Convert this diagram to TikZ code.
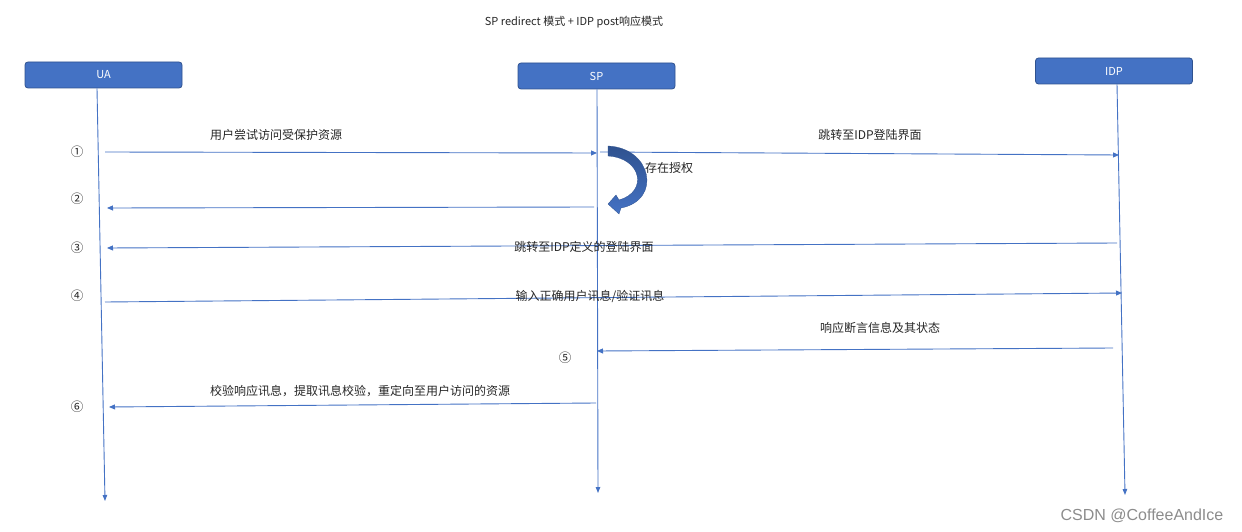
\documentclass[tikz,border=0pt]{standalone}
\usepackage{fontspec}
\setmainfont{Noto Sans CJK SC}
\newfontfamily\wmfont{Liberation Sans}
\usetikzlibrary{arrows.meta}
\definecolor{lineblue}{HTML}{4472C4}
\definecolor{boxedge}{HTML}{2F528F}
\definecolor{txt}{HTML}{262626}
\tikzset{
  actor/.style={draw=boxedge, fill=lineblue, rounded corners=3pt, minimum width=157pt, minimum height=26pt, inner sep=0pt, text=white, font=\fontsize{11}{13}\selectfont, line width=0.8pt},
  life/.style={draw=lineblue, line width=0.9pt, -{Triangle[length=6pt,width=4.5pt]}},
  msg/.style={draw=lineblue, line width=0.9pt, -{Triangle[length=6pt,width=5pt]}},
  lbl/.style={text=txt, font=\fontsize{12}{14}\selectfont, inner sep=0pt},
  num/.style={text=txt, font=\fontsize{12.5}{14}\selectfont, inner sep=0pt},
}
\begin{document}
\begin{tikzpicture}[x=1pt,y=-1pt]
\useasboundingbox (0,0) rectangle (1242,532);
% title
\node[text=txt, font=\fontsize{11}{13}\selectfont, inner sep=0pt] (title) at (574,22) {SP redirect 模式 + IDP post响应模式};
% actors
\node[actor] (UA) at (103.5,75) {UA};
\node[actor] (SP) at (596.5,76) {SP};
\node[actor] (IDP) at (1114,71) {IDP};
% lifeline ends
\coordinate (UAend) at (105,501);
\coordinate (SPend) at (598,493);
\coordinate (IDPend) at (1125,495);
\draw[life] (UA.south -| 97,0) -- (UAend);
\draw[life] (SP.south -| 597,0) -- (SPend);
\draw[life] (IDP.south -| 1117,0) -- (IDPend);
% message endpoints
\coordinate (m1a) at (105,152);   \coordinate (m1b) at (597,153);
\coordinate (m1c) at (600,152);   \coordinate (m1d) at (1119,155);
\coordinate (m2a) at (594,207);   \coordinate (m2b) at (107,208);
\coordinate (m3a) at (1117,243);  \coordinate (m3b) at (107,248);
\coordinate (m4a) at (105,302);   \coordinate (m4b) at (1122,293);
\coordinate (m5a) at (1113,348);  \coordinate (m5b) at (597,351);
\coordinate (m6a) at (596,403);   \coordinate (m6b) at (109,407);
\draw[msg] (m1a) -- (m1b);
\draw[msg] (m1c) -- (m1d);
\draw[msg] (m2a) -- (m2b);
\draw[msg] (m3a) -- (m3b);
\draw[msg] (m4a) -- (m4b);
\draw[msg] (m5a) -- (m5b);
\draw[msg] (m6a) -- (m6b);
% labels
\node[lbl] (l1) at (276,135) {用户尝试访问受保护资源};
\node[lbl] (l1b) at (870,135) {跳转至IDP登陆界面};
\node[lbl] (l3) at (584,247) {跳转至IDP定义的登陆界面};
\node[lbl] (l4) at (590,296) {输入正确用户讯息/验证讯息};
\node[lbl] (l5) at (880,328) {响应断言信息及其状态};
\node[lbl] (l6) at (360,391) {校验响应讯息，提取讯息校验，重定向至用户访问的资源};
\node[lbl] (auth) at (669,168) {存在授权};
% numbers
\node[num] (n1) at (77,152) {①};
\node[num] (n2) at (77,199) {②};
\node[num] (n3) at (77,248) {③};
\node[num] (n4) at (77,296) {④};
\node[num] (n5) at (565,358) {⑤};
\node[num] (n6) at (77,407) {⑥};
% curved block arrow
\shade[top color=boxedge, bottom color=lineblue, draw=boxedge, line width=0.3pt]
  (608,146) .. controls (652,148) and (662,200) .. (621,208)
  -- (619,214) -- (608,204) -- (616,195) -- (619,200)
  .. controls (648,192) and (642,158) .. (608,156) -- cycle;
% watermark
\node[text=black!45, font=\wmfont\fontsize{16}{18}\selectfont, inner sep=0pt] (wm) at (1142,516) {CSDN @CoffeeAndIce};
\end{tikzpicture}
\end{document}
